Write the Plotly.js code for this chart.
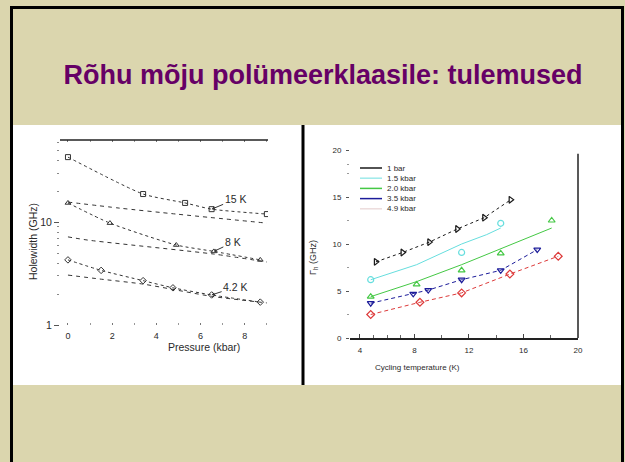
<!DOCTYPE html>
<html>
<head>
<meta charset="utf-8">
<script src="https://cdn.plot.ly/plotly-3.0.1.min.js"></script>
<style>
html,body{margin:0;padding:0;background:#dbd6ae;}
#chart{width:625px;height:462px;}
</style>
</head>
<body>
<div id="chart"></div>
<script>
// ---------- Left chart: Holewidth vs pressure (log scale) ----------
const pTicks = [0, 2, 4, 6, 8];
const wTickVals = [1, 10];
const wTickText = ['1', '10'];

const p15a = [0, 3.4, 5.3, 6.5, 9.0];
const w15a = [43, 18.8, 15.4, 13.4, 12.0];
const p15b = [0, 2.35, 4.9, 9.0];
const w15b = [15.7, 13.7, 12.0, 9.8];

const p8a = [0, 1.9, 4.9, 6.6, 8.7];
const w8a = [15.4, 9.8, 6.0, 5.2, 4.3];
const p8b = [0, 0.9, 6.6, 9.0];
const w8b = [7.2, 6.7, 4.9, 4.1];

const p42a = [0, 1.5, 3.4, 4.75, 6.5, 8.7];
const w42a = [4.3, 3.4, 2.7, 2.3, 1.96, 1.67];
const p42b = [0, 1.45, 3.4, 6.5, 9.0];
const w42b = [3.06, 2.8, 2.5, 1.9, 1.64];

const tempLabels = ['15 K', '8 K', '4.2 K'];
const labelTipP = [6.5, 6.6, 6.5];
const labelTipW = [13.4, 5.2, 1.96];

// ---------- Right chart: Gamma_h vs cycling temperature ----------
const legendNames = ['1 bar', '1.5 kbar', '2.0 kbar', '3.5 kbar', '4.9 kbar'];

const tBar1 = [5.17, 7.13, 9.09, 11.14, 13.12, 15.06];
const gBar1 = [8.1, 9.1, 10.2, 11.6, 12.8, 14.7];

const t15 = [4.79, 11.46, 14.33];
const g15 = [6.2, 9.1, 12.2];
const t15fit = [4.79, 8.16, 11.46, 13.3, 14.33];
const g15fit = [6.2, 7.8, 10.0, 11.0, 11.7];

const t20 = [4.79, 8.16, 11.46, 14.33, 18.07];
const g20 = [4.4, 5.7, 7.2, 9.0, 12.5];
const g20fit = [4.4, 6.0, 7.8, 9.5, 11.7];

const t35 = [4.79, 7.91, 9.01, 11.46, 14.33, 17.01];
const g35 = [3.7, 4.7, 5.1, 6.2, 7.2, 9.4];

const t49 = [4.79, 8.4, 11.46, 15.0, 18.55];
const g49 = [2.5, 3.8, 4.8, 6.8, 8.7];

// ---------- helpers ----------
const W = 625, H = 462;
const px = v => v / W;
const py = v => 1 - v / H;
const FONT = 'Liberation Sans, Arial, sans-serif';
const ink = '#2a2a2a';

const lineCol = ['#1a1a1a', '#66dede', '#44c844', '#1c1c9a', '#dd3a3a'];
const legendSampleCol = ['#1a1a1a', '#9eeaea', '#44c844', '#1c1c9a', '#ecdcdc'];

const traces = [];
function leftTrace(x, y, dash, withMarkers, symbol) {
  traces.push({
    x: x, y: y, xaxis: 'x', yaxis: 'y',
    type: 'scatter', mode: withMarkers ? 'lines+markers' : 'lines',
    line: {color: '#333', width: 1, dash: dash, shape: 'spline', smoothing: 0.6},
    marker: {symbol: symbol, size: 5, color: '#333', line: {width: 1, color: '#333'}},
    showlegend: false, hoverinfo: 'skip'
  });
}
leftTrace(p15a, w15a, 'dot', true, 'square-open');
leftTrace(p15b, w15b, '4px,4px', false, 'circle-open');
leftTrace(p8a, w8a, 'dot', true, 'triangle-up-open');
leftTrace(p8b, w8b, '4px,4px', false, 'circle-open');
leftTrace(p42a, w42a, 'dot', true, 'diamond-open');
leftTrace(p42b, w42b, '4px,4px', false, 'circle-open');

function rightTrace(x, y, mode, color, dash, symbol) {
  traces.push({
    x: x, y: y, xaxis: 'x2', yaxis: 'y2', type: 'scatter', mode: mode,
    line: {color: color, width: 1, dash: dash},
    marker: {symbol: symbol, size: 6, color: color, line: {width: 1.2, color: color}},
    showlegend: false, hoverinfo: 'skip'
  });
}
rightTrace(tBar1, gBar1, 'lines+markers', lineCol[0], 'dot', 'triangle-right-open');
rightTrace(t15fit, g15fit, 'lines', lineCol[1], 'solid', 'circle-open');
rightTrace(t15, g15, 'markers', lineCol[1], 'solid', 'circle-open');
rightTrace(t20, g20fit, 'lines', lineCol[2], 'solid', 'triangle-up-open');
rightTrace(t20, g20, 'markers', lineCol[2], 'solid', 'triangle-up-open');
rightTrace(t35, g35, 'lines+markers', lineCol[3], '4px,3px', 'triangle-down-open');
rightTrace(t49, g49, 'lines+markers', lineCol[4], '4px,3px', 'diamond-open');

const shapes = [
  // white content panel
  {type: 'rect', xref: 'paper', yref: 'paper', x0: px(12), x1: px(622), y0: py(385), y1: py(125),
   fillcolor: '#ffffff', line: {width: 0}, layer: 'below'},
  // slide border
  {type: 'rect', xref: 'paper', yref: 'paper', x0: px(11.5), x1: px(622.5), y0: -0.05, y1: py(7.5),
   line: {color: '#000', width: 3}, layer: 'above'},
  // divider
  {type: 'line', xref: 'paper', yref: 'paper', x0: px(303), x1: px(303), y0: py(385), y1: py(125),
   line: {color: '#000', width: 3}},
  // left chart top frame line
  {type: 'line', xref: 'x domain', yref: 'y domain', x0: 0, x1: 1, y0: 1, y1: 1,
   line: {color: '#222', width: 1.5}},
  // right chart right frame line
  {type: 'line', xref: 'x2 domain', yref: 'y2 domain', x0: 1, x1: 1, y0: 0, y1: 0.98,
   line: {color: '#222', width: 1.5}}
];

const annotations = [];
// axis titles
annotations.push({xref: 'paper', yref: 'paper', x: px(25), y: py(242), text: 'Holewidth (GHz)',
  textangle: -90, showarrow: false, font: {family: FONT, size: 10.5, color: ink}});
annotations.push({xref: 'paper', yref: 'paper', x: px(166), y: py(355), text: 'Pressure (kbar)',
  showarrow: false, font: {family: FONT, size: 10.5, color: ink}});
annotations.push({xref: 'paper', yref: 'paper', x: px(313), y: py(258), text: 'Γ<sub>h</sub> (GHz)',
  textangle: -90, showarrow: false, font: {family: FONT, size: 9, color: ink}});
annotations.push({xref: 'paper', yref: 'paper', x: px(462), y: py(367), yanchor: 'middle', text: 'Cycling temperature (K)',
  showarrow: false, font: {family: FONT, size: 8, color: ink}});
// temperature labels with arrows
const offs = [[24, -10], [19, -9], [24, -8]];
for (let i = 0; i < tempLabels.length; i++) {
  annotations.push({xref: 'x', yref: 'y', x: labelTipP[i], y: Math.log10(labelTipW[i]),
    text: tempLabels[i], showarrow: true, ax: offs[i][0], ay: offs[i][1],
    arrowhead: 2, arrowsize: 0.6, arrowwidth: 1, arrowcolor: '#333',
    font: {family: FONT, size: 10.5, color: ink}});
}
// manual legend for right chart
for (let i = 0; i < legendNames.length; i++) {
  const yy = 168 + 10.2 * i;
  shapes.push({type: 'line', xref: 'paper', yref: 'paper', x0: px(360), x1: px(382), y0: py(yy), y1: py(yy),
    line: {color: legendSampleCol[i], width: 1.5}});
  annotations.push({xref: 'paper', yref: 'paper', x: px(385), y: py(yy), xanchor: 'left', yanchor: 'middle',
    text: legendNames[i], showarrow: false, font: {family: FONT, size: 8, color: ink}});
}

const layout = {
  width: W, height: H,
  margin: {l: 0, r: 0, t: 0, b: 0},
  paper_bgcolor: '#dbd6ae',
  plot_bgcolor: 'rgba(0,0,0,0)',
  showlegend: false,
  title: {text: '<b>Rõhu mõju polümeerklaasile: tulemused</b>', x: px(323), xanchor: 'center',
    y: py(75), yanchor: 'middle', yref: 'paper',
    font: {family: FONT, size: 27, color: '#660066'}},
  xaxis: {domain: [px(60), px(268)], range: [-0.36, 9.05], tickvals: pTicks,
    showgrid: false, zeroline: false, showline: false,
    ticks: 'inside', ticklen: 2, tickcolor: '#777', mirror: 'ticks',
    ticklabelstandoff: 4,
    tickfont: {family: FONT, size: 9, color: ink},
    minor: {tickvals: [1, 3, 5, 7, 9], ticks: 'inside', ticklen: 2, tickcolor: '#999'}},
  yaxis: {domain: [py(325), py(140)], type: 'log', range: [0, 1.8],
    tickvals: wTickVals, ticktext: wTickText,
    showgrid: false, zeroline: false, showline: false,
    ticks: 'outside', ticklen: 5, tickcolor: '#555', mirror: false,
    tickfont: {family: FONT, size: 10.5, color: ink},
    minor: {tickvals: [2, 3, 4, 5, 6, 7, 8, 9, 20, 30, 40, 50, 60], ticks: 'outside', ticklen: 2, tickcolor: '#888'}},
  xaxis2: {domain: [px(350), px(578)], range: [3.27, 20], anchor: 'y2',
    tickvals: [4, 8, 12, 16, 20], showgrid: false, zeroline: false,
    showline: true, linecolor: '#222', linewidth: 1.5,
    ticks: 'inside', ticklen: 4, tickcolor: '#444', ticklabelstandoff: 4,
    tickfont: {family: FONT, size: 8, color: ink},
    minor: {tickvals: [5, 6, 7, 10, 14, 18], ticks: 'inside', ticklen: 3, tickcolor: '#666'}},
  yaxis2: {domain: [py(338), py(150)], range: [0, 20], anchor: 'x2',
    tickvals: [0, 5, 10, 15, 20], showgrid: false, zeroline: false, showline: false,
    ticks: 'outside', ticklen: 3, tickcolor: '#555', ticklabelstandoff: 3,
    tickfont: {family: FONT, size: 8, color: ink},
    minor: {tickvals: [2.5, 7.5, 12.5, 17.5, 18.5], ticks: 'outside', ticklen: 2, tickcolor: '#999'}},
  shapes: shapes,
  annotations: annotations
};

Plotly.newPlot('chart', traces, layout, {staticPlot: true, displayModeBar: false});
</script>
</body>
</html>
